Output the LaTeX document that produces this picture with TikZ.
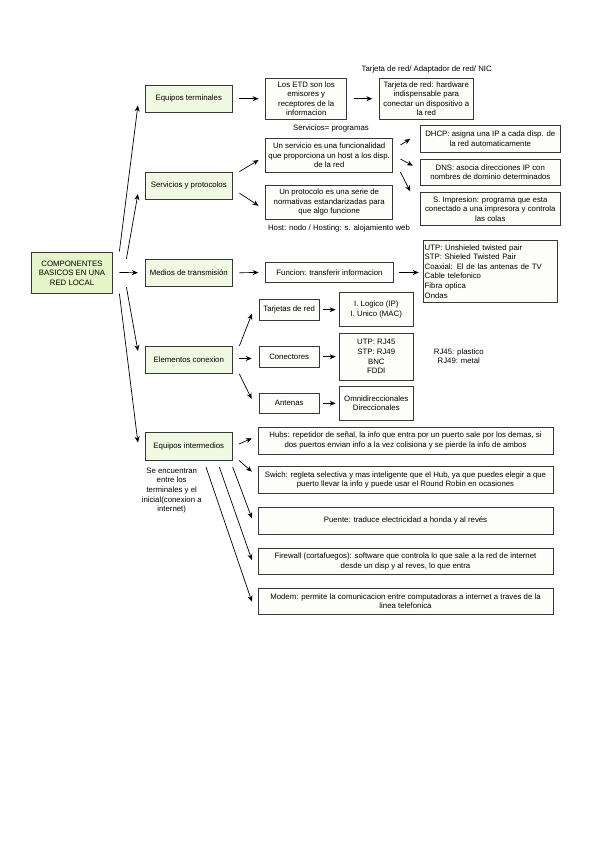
\documentclass[tikz,border=0pt]{standalone}
\usepackage{fontspec}
\setmainfont{Liberation Sans}
\usetikzlibrary{arrows.meta}
\definecolor{rootgreen}{RGB}{228,246,200}
\definecolor{lvlgreen}{RGB}{240,250,226}
\definecolor{boxwhite}{RGB}{253,253,250}
\definecolor{edge}{RGB}{55,55,55}
\tikzset{
  txt/.style={font=\fontsize{7.8}{9.6}\selectfont, inner sep=0pt, align=center},
  box/.style={txt, draw=edge, line width=0.8pt, fill=boxwhite, minimum width=#1},
  box/.default=80pt,
  gbox/.style={box=87pt, fill=lvlgreen, minimum height=27.3pt},
  arr/.style={-{Stealth[length=6pt,width=5pt]}, line width=0.7pt, black},
}
\begin{document}
\begin{tikzpicture}[x=1pt,y=-1pt]
\useasboundingbox (0,0) rectangle (603,848);
% root
\node[box=80.6pt, fill=rootgreen, minimum height=40.6pt] (root) at (72,273) {COMPONENTES\\BASICOS EN UNA\\RED LOCAL};
% level 1
\node[gbox] (et) at (188.8,98.7) {Equipos terminales};
\node[gbox] (sp) at (188.8,185.7) {Servicios y protocolos};
\node[gbox] (mt) at (188.8,272.7) {Medios de transmisión};
\node[gbox] (ec) at (188.8,360) {Elementos conexion};
\node[gbox] (ei) at (188.8,446.3) {Equipos intermedios};
% equipos terminales branch
\node[box=81pt, minimum height=40.7pt] (etd) at (306.2,98.7) {Los ETD son los\\emisores y\\receptores de la\\informacion};
\node[box=94pt, minimum height=40.7pt] (tr) at (426.3,98.7) {Tarjeta de red: hardware\\indispensable para\\conectar un dispositivo a\\la red};
\node[txt] (nic) at (426.7,69) {Tarjeta de red/ Adaptador de red/ NIC};
% servicios branch
\node[txt] (prog) at (331,128.3) {Servicios= programas};
\node[box=127pt, minimum height=34pt] (us) at (329.2,155.3) {Un servicio es una funcionalidad\\que proporciona un host a los disp.\\de la red};
\node[box=127pt, minimum height=33.3pt] (up) at (329.2,202.3) {Un protocolo es una serie de\\normativas estandarizadas para\\que algo funcione};
\node[txt] (host) at (339,228.3) {Host: nodo / Hosting: s. alojamiento web};
\node[box=140.7pt, minimum height=26.7pt] (dhcp) at (490.3,139) {DHCP: asigna una IP a cada disp. de\\la red automaticamente};
\node[box=140.7pt, minimum height=26.7pt] (dns) at (490.3,172.3) {DNS: asocia direcciones IP con\\nombres de dominio determinados};
\node[box=140.7pt, minimum height=33.3pt] (imp) at (490.3,209) {S. Impresion: programa que esta\\conectado a una impresora y controla\\las colas};
% medios branch
\node[box=127.6pt, minimum height=20.4pt] (fun) at (329.5,272.5) {Funcion: transferir informacion};
\node[box=133.7pt, minimum height=62.7pt, align=left, text width=131pt] (med) at (490.2,271.3) {UTP: Unshieled twisted pair\\STP: Shieled Twisted Pair\\Coaxial: El de las antenas de TV\\Cable telefonico\\Fibra optica\\Ondas};
% elementos branch
\node[box=60.3pt, minimum height=20.7pt] (tdr) at (289.2,309.7) {Tarjetas de red};
\node[box=60.3pt, minimum height=20.7pt] (con) at (289.2,356.7) {Conectores};
\node[box=60.3pt, minimum height=20.7pt] (ant) at (289.2,403.3) {Antenas};
\node[box=74pt, minimum height=33.3pt] (log) at (376.3,309.3) {I. Logico (IP)\\I. Unico (MAC)};
\node[box=74pt, minimum height=46.7pt] (rj) at (376.3,356.7) {UTP: RJ45\\STP: RJ49\\BNC\\FDDI};
\node[box=74pt, minimum height=33.3pt] (omni) at (376.3,403.3) {Omnidireccionales\\Direccionales};
\node[txt] (rjn) at (458.8,356.4) {RJ45: plastico\\RJ49: metal};
% intermedios branch
\node[box=295pt, minimum height=26.7pt] (hubs) at (405.5,440.7) {Hubs: repetidor de señal, la info que entra por un puerto sale por los demas, si\\dos puertos envian info a la vez colisiona y se pierde la info de ambos};
\node[box=295pt, minimum height=26.7pt] (swich) at (405.5,480) {Swich: regleta selectiva y mas inteligente que el Hub, ya que puedes elegir a que\\puerto llevar la info y puede usar el Round Robin en ocasiones};
\node[box=295pt, minimum height=27pt] (puente) at (405.5,520.8) {Puente: traduce electricidad a honda y al revés};
\node[box=295pt, minimum height=26pt] (fw) at (405.5,561.3) {Firewall (cortafuegos): software que controla lo que sale a la red de internet\\desde un disp y al reves, lo que entra};
\node[box=295pt, minimum height=26pt] (modem) at (405.5,601.3) {Modem: permite la comunicacion entre computadoras a internet a traves de la\\linea telefonica};
\node[txt] (se) at (171.7,490.5) {Se encuentran\\entre los\\terminales y el\\inicial(conexion a\\internet)};
% arrows from root
\draw[arr] ([shift={(6.7,-1)}]root.north east) -- ([shift={(-7,-7.3)}]et.south west);
\draw[arr] ([shift={(13.7,6.6)}]root.north east) -- ([shift={(-7,-5.7)}]sp.south west);
\draw[arr] ([shift={(6.7,-0.5)}]root.east) -- ([shift={(-7,0)}]mt.west);
\draw[arr] ([shift={(13.7,-6.6)}]root.south east) -- ([shift={(-7,5)}]ec.north west);
\draw[arr] ([shift={(6.7,0)}]root.south east) -- ([shift={(-7,10.3)}]ei.north west);
% equipos terminales
\draw[arr] ([xshift=6.7pt]et.east) -- ([xshift=-6.7pt]etd.west);
\draw[arr] ([xshift=6.6pt]etd.east) -- ([xshift=-6.6pt]tr.west);
% servicios
\draw[arr] ([shift={(6.7,0)}]sp.north east) -- ([shift={(-6.7,4.7)}]us.west);
\draw[arr] ([shift={(6.7,-6.7)}]sp.south east) -- ([shift={(-6.7,3.4)}]up.west);
\draw[arr] ([shift={(7.3,-10.3)}]us.east) -- ([shift={(-9.3,0)}]dhcp.west);
\draw[arr] ([shift={(7.3,3.7)}]us.east) -- ([shift={(-6.7,-6.6)}]dns.west);
\draw[arr] ([shift={(7.3,-0.6)}]us.south east) -- ([shift={(-9.3,-0.6)}]imp.north west);
% medios
\draw[arr] ([xshift=6.7pt]mt.east) -- ([xshift=-6.7pt]fun.west);
\draw[arr] ([xshift=5.7pt]fun.east) -- ([xshift=-4.3pt]fun.east -| med.west);
% elementos
\draw[arr] ([shift={(6.7,0)}]ec.north east) -- ([shift={(-6.7,-6.7)}]tdr.south west);
\draw[arr] ([shift={(6.7,-1.5)}]ec.east) -- ([shift={(-7,1.8)}]con.west);
\draw[arr] ([shift={(6.7,0)}]ec.south east) -- ([shift={(-7,-4.3)}]ant.west);
\draw[arr] ([xshift=3.4pt]tdr.east) -- ([xshift=-3.3pt]tdr.east -| log.west);
\draw[arr] ([xshift=3.4pt]con.east) -- ([xshift=-3.3pt]con.east -| rj.west);
\draw[arr] ([xshift=3.4pt]ant.east) -- ([xshift=-3.3pt]ant.east -| omni.west);
% intermedios
\draw[arr] ([shift={(6.3,-2.3)}]ei.east) -- ([shift={(-5.7,-2.4)}]hubs.west);
\draw[arr] ([shift={(6.3,0)}]ei.south east) -- ([shift={(-5.7,-8.3)}]swich.west);
\draw[arr] ([shift={(0,6.7)}]ei.south east) -- ([shift={(-5.7,-2.5)}]puente.west);
\draw[arr] ([shift={(-13.4,6.7)}]ei.south east) -- ([shift={(-5.7,-1.3)}]fw.west);
\draw[arr] ([shift={(-26.7,6.7)}]ei.south east) -- ([shift={(-5.7,0.4)}]modem.west);
\end{tikzpicture}
\end{document}
